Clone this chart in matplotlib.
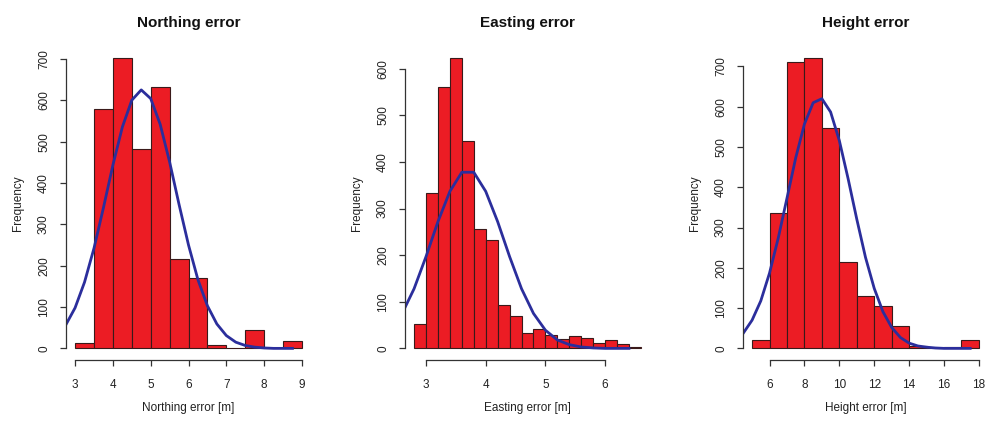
import numpy as np
import matplotlib
matplotlib.use("Agg")
import matplotlib.pyplot as plt

plt.rcParams['font.family'] = ['Liberation Sans Narrow', 'Liberation Sans', 'DejaVu Sans']

# histogram bins and counts
north_edges = [3.0, 3.5, 4.0, 4.5, 5.0, 5.5, 6.0, 6.5, 7.0, 7.5, 8.0, 8.5, 9.0]
north_counts = [14, 578, 703, 481, 631, 216, 169, 8, 2, 45, 0, 19]

east_edges = [2.8, 3.0, 3.2, 3.4, 3.6, 3.8, 4.0, 4.2, 4.4, 4.6, 4.8,
              5.0, 5.2, 5.4, 5.6, 5.8, 6.0, 6.2, 6.4, 6.6]
east_counts = [52, 333, 560, 624, 445, 256, 233, 94, 69, 32, 42,
               29, 20, 26, 23, 12, 18, 9, 2]

height_edges = [5, 6, 7, 8, 9, 10, 11, 12, 13, 14, 15, 16, 17, 18]
height_counts = [21, 337, 712, 722, 548, 215, 130, 104, 56, 5, 0, 4, 21]

# fitted normal curves (scaled to counts)
north_fit_x = [2.75, 3.0, 3.25, 3.5, 3.75, 4.0, 4.25, 4.5, 4.75, 5.0, 5.25, 5.5, 5.75,
               6.0, 6.25, 6.5, 6.75, 7.0, 7.25, 7.5, 7.75, 8.0, 8.25, 8.5, 8.75]
north_fit_y = [56, 98, 160, 242, 340, 443, 535, 600, 625, 604, 542, 451, 348,
               250, 166, 103, 59, 31, 15, 7, 3, 1, 0, 0, 0]

east_fit_x = [2.6, 2.8, 3.0, 3.2, 3.4, 3.6, 3.8, 4.0, 4.2, 4.4, 4.6, 4.8,
              5.0, 5.2, 5.4, 5.6, 5.8, 6.0, 6.2, 6.4]
east_fit_y = [75, 128, 197, 272, 337, 378, 378, 337, 272, 197, 128, 75,
              39, 18, 8, 3, 1, 0, 0, 0]

height_fit_x = [4.5, 5.0, 5.5, 6.0, 6.5, 7.0, 7.5, 8.0, 8.5, 9.0, 9.5, 10.0, 10.5, 11.0,
                11.5, 12.0, 12.5, 13.0, 13.5, 14.0, 14.5, 15.0, 15.5, 16.0, 16.5, 17.0, 17.5]
height_fit_y = [38, 70, 118, 187, 274, 373, 473, 557, 610, 620, 587, 516, 422, 321,
                226, 149, 91, 52, 27, 13, 6, 3, 1, 0, 0, 0, 0]

north_xticks = [3, 4, 5, 6, 7, 8, 9]
east_xticks = [3, 4, 5, 6]
height_xticks = [6, 8, 10, 12, 14, 16, 18]
north_yticks = [0, 100, 200, 300, 400, 500, 600, 700]
east_yticks = [0, 100, 200, 300, 400, 500, 600]
height_yticks = [0, 100, 200, 300, 400, 500, 600, 700]

W, H = 990, 423
fig = plt.figure(figsize=(W / 100, H / 100), dpi=100)
fig.patch.set_facecolor('white')

BAR_COLOR = '#ec1c24'
CURVE_COLOR = '#2b2e9c'


def hist_panel(left_px, edges, counts, fit_x, fit_y, xticks, yticks, title, xlabel):
    top_px, bottom_px, width_px = 46, 360, 245
    ax = fig.add_axes([left_px / W, (H - bottom_px) / H,
                       width_px / W, (bottom_px - top_px) / H])
    edges = np.asarray(edges, dtype=float)
    widths = np.diff(edges)
    ax.bar(edges[:-1], counts, width=widths, align='edge',
           color=BAR_COLOR, edgecolor='#3a1a1a', linewidth=0.8)
    ax.plot(fit_x, fit_y, color=CURVE_COLOR, linewidth=2.0)

    # R-style 4% padding around the data range
    xr = edges[-1] - edges[0]
    ax.set_xlim(edges[0] - 0.04 * xr, edges[-1] + 0.04 * xr)
    ymax = max(counts)
    ax.set_ylim(-0.04 * ymax, ymax * 1.04)

    for s in ('top', 'right'):
        ax.spines[s].set_visible(False)
    ax.spines['left'].set_bounds(yticks[0], yticks[-1])
    ax.spines['bottom'].set_bounds(xticks[0], xticks[-1])
    for s in ('left', 'bottom'):
        ax.spines[s].set_linewidth(0.9)
        ax.spines[s].set_color('#333333')

    ax.set_xticks(xticks)
    ax.set_yticks(yticks)
    ax.set_xticklabels([str(t) for t in xticks])
    ax.set_yticklabels([str(t) for t in yticks], rotation=90, va='center')
    ax.tick_params(axis='both', direction='out', length=4.5, width=0.9,
                   color='#333333', labelsize=8.5, labelcolor='#222222')
    ax.tick_params(axis='x', pad=9)
    ax.tick_params(axis='y', pad=7)

    ax.set_title(title, fontsize=11, fontweight='bold', pad=14, color='#111111')
    ax.set_xlabel(xlabel, fontsize=8.5, labelpad=8, color='#222222')
    ax.set_ylabel('Frequency', fontsize=8.5, labelpad=10, color='#222222')
    return ax


hist_panel(66, north_edges, north_counts, north_fit_x, north_fit_y,
           north_xticks, north_yticks, 'Northing error', 'Northing error [m]')
hist_panel(405, east_edges, east_counts, east_fit_x, east_fit_y,
           east_xticks, east_yticks, 'Easting error', 'Easting error [m]')
hist_panel(743, height_edges, height_counts, height_fit_x, height_fit_y,
           height_xticks, height_yticks, 'Height error', 'Height error [m]')

fig.savefig('out.png', dpi=100)
